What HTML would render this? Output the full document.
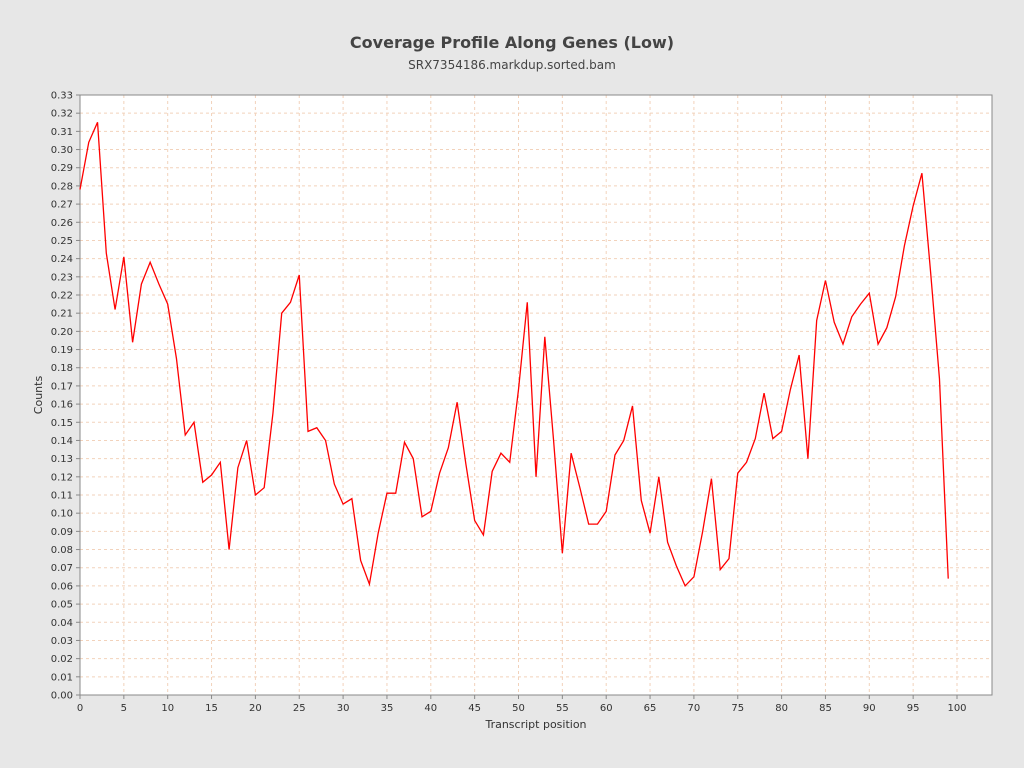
<!DOCTYPE html>
<html><head><meta charset="utf-8"><style>
html,body{margin:0;padding:0;overflow:hidden;background:#e7e7e7;font-family:"Liberation Sans","DejaVu Sans",sans-serif;}
svg{display:block;}
</style></head><body>
<svg id="chart" width="1024" height="768" xmlns="http://www.w3.org/2000/svg">
<rect x="0" y="0" width="1024" height="768" fill="#e7e7e7"/>
<text x="512" y="48" text-anchor="middle" font-size="16" font-weight="bold" fill="#444" font-family="DejaVu Sans, sans-serif">Coverage Profile Along Genes (Low)</text>
<text x="512" y="69" text-anchor="middle" font-size="12" fill="#444" font-family="DejaVu Sans, sans-serif">SRX7354186.markdup.sorted.bam</text>
<rect x="80" y="95" width="912" height="600" fill="#fff"/>
<g id="grid"></g>
<rect x="80" y="95" width="912" height="600" fill="none" stroke="#888"/>
<g id="axes"></g><g id="series"></g>
<text x="536" y="728" text-anchor="middle" font-size="11" fill="#333" font-family="DejaVu Sans, sans-serif">Transcript position</text>
<text x="42" y="395" text-anchor="middle" font-size="11" fill="#333" font-family="DejaVu Sans, sans-serif" transform="rotate(-90 42 395)">Counts</text>
</svg>
<script>
const positions=[];for(let i=0;i<100;i++)positions.push(i);
const counts=[0.278,0.304,0.315,0.243,0.212,0.241,0.194,0.226,0.238,0.226,0.215,0.185,0.143,0.150,0.117,0.121,0.128,0.080,0.125,0.140,0.110,0.114,0.155,0.210,0.216,0.231,0.145,0.147,0.140,0.116,0.105,0.108,0.074,0.061,0.089,0.111,0.111,0.139,0.130,0.098,0.101,0.122,0.136,0.161,0.127,0.096,0.088,0.123,0.133,0.128,0.168,0.216,0.120,0.197,0.140,0.078,0.133,0.114,0.094,0.094,0.101,0.132,0.140,0.159,0.107,0.089,0.120,0.084,0.071,0.060,0.065,0.090,0.119,0.069,0.075,0.122,0.128,0.141,0.166,0.141,0.145,0.168,0.187,0.130,0.206,0.228,0.205,0.193,0.208,0.215,0.221,0.193,0.202,0.219,0.247,0.269,0.287,0.232,0.174,0.064];
const xTicks=[0,5,10,15,20,25,30,35,40,45,50,55,60,65,70,75,80,85,90,95,100];
const yTicks=[];for(let i=0;i<=33;i++)yTicks.push(i/100);
const NS="http://www.w3.org/2000/svg";
const X=v=>80+v*8.77, Y=v=>695-v*600/0.33;
function mk(t,a,p){const e=document.createElementNS(NS,t);for(const k in a)e.setAttribute(k,a[k]);p.appendChild(e);return e;}
const grid=document.getElementById('grid'),axes=document.getElementById('axes'),ser=document.getElementById('series');
xTicks.forEach(v=>{
 const l=mk('line',{x1:X(v),x2:X(v),y1:95,y2:695,stroke:'#f2d2bb','stroke-dasharray':'3,3'},grid);
 
 
 mk('line',{x1:X(v),x2:X(v),y1:695,y2:699,stroke:'#888'},axes);
 const t=mk('text',{x:X(v),y:711,'text-anchor':'middle','font-size':10,fill:'#333','font-family':'DejaVu Sans, sans-serif'},axes);
 t.textContent=v;
 
 
});
yTicks.forEach(v=>{
 const l=mk('line',{x1:80,x2:992,y1:Y(v),y2:Y(v),stroke:'#f2d2bb','stroke-dasharray':'3,3'},grid);
 
 
 mk('line',{x1:76,x2:80,y1:Y(v),y2:Y(v),stroke:'#888'},axes);
 const t=mk('text',{x:73,y:Y(v)+3.5,'text-anchor':'end','font-size':10,fill:'#333','font-family':'DejaVu Sans, sans-serif'},axes);
 t.textContent=v.toFixed(2);
 
 
});
const p=mk('polyline',{points:positions.map((x,i)=>X(x)+','+Y(counts[i])).join(' '),fill:'none',stroke:'#ff0000','stroke-width':1.3},ser);


</script>
</body></html>
